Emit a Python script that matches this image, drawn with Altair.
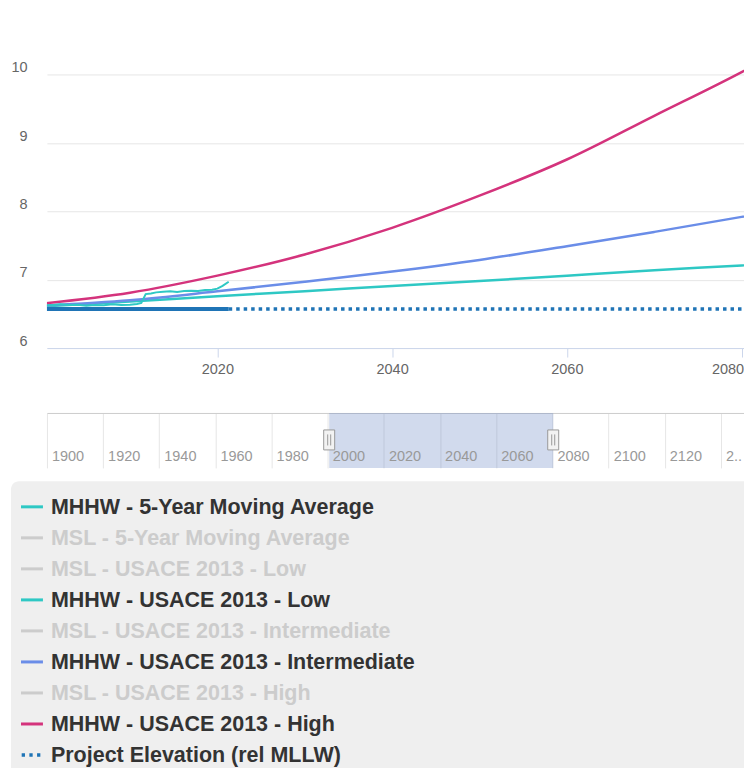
import altair as alt
import pandas as pd

# ---------------- data (ft, relative to MLLW) ----------------
SERIES = [
    "MHHW - 5-Year Moving Average",
    "MSL - 5-Year Moving Average",
    "MSL - USACE 2013 - Low",
    "MHHW - USACE 2013 - Low",
    "MSL - USACE 2013 - Intermediate",
    "MHHW - USACE 2013 - Intermediate",
    "MSL - USACE 2013 - High",
    "MHHW - USACE 2013 - High",
    "Project Elevation (rel MLLW)",
]
SHOWN = [True, False, False, True, False, True, False, True, True]
SERIES_COLORS = ["#2ec8c4", "#cccccc", "#cccccc", "#2ec8c4", "#cccccc",
                 "#6a8de8", "#cccccc", "#d4337c", "#1f74b6"]

# observed MHHW 5-year moving average
MA_YEARS = [2000.0, 2001.0, 2002.0, 2003.0, 2004.0, 2005.0, 2006.0, 2007.0, 2008.0,
            2009.0, 2010.0, 2010.8, 2011.3, 2011.8, 2012.4, 2013.0, 2013.8, 2014.6,
            2015.4, 2016.2, 2017.0, 2017.8, 2018.6, 2019.4, 2020.0, 2020.6, 2021.3]
MA_VALUES = [6.63, 6.625, 6.64, 6.63, 6.635, 6.62, 6.63, 6.625, 6.64,
             6.63, 6.635, 6.645, 6.66, 6.79, 6.80, 6.815, 6.825, 6.83,
             6.82, 6.835, 6.84, 6.835, 6.85, 6.855, 6.87, 6.91, 6.97]

# USACE 2013 projections of MHHW
PROJ_YEARS = [2000, 2010, 2020, 2030, 2040, 2050, 2060, 2070, 2080, 2090]
LOW = [6.61, 6.68, 6.76, 6.83, 6.91, 6.98, 7.06, 7.14, 7.21, 7.29]
INTERMEDIATE = [6.62, 6.70, 6.83, 6.97, 7.12, 7.29, 7.49, 7.70, 7.92, 8.16]
HIGH = [6.65, 6.81, 7.06, 7.37, 7.76, 8.23, 8.76, 9.40, 10.04, 10.75]

PROJECT_ELEVATION = 6.57
PE_SOLID_YEARS = [2000, 2021.3]
PE_DOTTED_YEARS = [2021.3, 2100]

VIEW_RANGE = [2000.5, 2080.27]         # navigator selection = main x range
NAV_RANGE = [1900, 2148.2]
NAV_TICKS = [1900, 1920, 1940, 1960, 1980, 2000, 2020, 2040, 2060, 2080, 2100, 2120, 2140]
NAV_LABELS = ["1900", "1920", "1940", "1960", "1980", "2000", "2020", "2040",
              "2060", "2080", "2100", "2120", "2.."]
MAIN_X_TICKS = [2020, 2040, 2060, 2080]
MAIN_Y_TICKS = [6, 7, 8, 9, 10]
Y_DOMAIN = [6, 10.97]

FONT = "Liberation Sans"
W = 698

# ---------------- tables ----------------
proj_rows = []
for name, vals in [(SERIES[3], LOW), (SERIES[5], INTERMEDIATE), (SERIES[7], HIGH)]:
    for yr, v in zip(PROJ_YEARS, vals):
        proj_rows.append({"series": name, "year": yr, "value": v})
proj_df = pd.DataFrame(proj_rows)
ma_df = pd.DataFrame({"series": SERIES[0], "year": MA_YEARS, "value": MA_VALUES})
pe_solid_df = pd.DataFrame({"series": SERIES[8], "year": PE_SOLID_YEARS,
                            "value": [PROJECT_ELEVATION] * len(PE_SOLID_YEARS)})
pe_dot_df = pd.DataFrame({"series": SERIES[8], "year": PE_DOTTED_YEARS,
                          "value": [PROJECT_ELEVATION] * len(PE_DOTTED_YEARS)})

color = alt.Color("series:N", scale=alt.Scale(domain=SERIES, range=SERIES_COLORS), legend=None)

x_main = alt.X(
    "year:Q",
    scale=alt.Scale(domain=VIEW_RANGE, nice=False, zero=False),
    axis=alt.Axis(values=MAIN_X_TICKS, format="d", title=None, grid=False,
                  domainColor="#ccd6eb", tickColor="#ccd6eb", tickSize=9,
                  labelPadding=5, labelFontSize=14.5, labelColor="#666666",
                  labelFont=FONT, labelFlush=6, labelFlushOffset=2),
)
y_main = alt.Y(
    "value:Q",
    scale=alt.Scale(domain=Y_DOMAIN, nice=False, zero=False),
    axis=alt.Axis(values=MAIN_Y_TICKS, title=None, domain=False, ticks=False,
                  gridColor="#e6e6e6", labelAlign="right", labelPadding=20,
                  labelBaseline="alphabetic", labelOffset=-3, labelFontSize=14.5,
                  labelColor="#666666", labelFont=FONT),
)

proj = alt.Chart(proj_df).mark_line(clip=True, strokeWidth=2.5, interpolate="monotone").encode(
    x=x_main, y=y_main, color=color)
ma = alt.Chart(ma_df).mark_line(clip=True, strokeWidth=2).encode(x=x_main, y=y_main, color=color)
pe_solid = alt.Chart(pe_solid_df).mark_line(clip=True, strokeWidth=4).encode(
    x=x_main, y=y_main, color=color)
pe_dot = alt.Chart(pe_dot_df).mark_line(clip=True, strokeWidth=3.5, strokeDash=[3.5, 4]).encode(
    x=x_main, y=y_main, color=color)

main = alt.layer(proj, ma, pe_solid, pe_dot).properties(width=W, height=340)

# ---------------- navigator + legend panel ----------------
nav_scale = alt.Scale(domain=NAV_RANGE, nice=False, zero=False)
nav_axis = alt.Axis(orient="top", values=NAV_TICKS, labels=False, ticks=False,
                    domain=True, domainColor="#cccccc", grid=True, gridColor="#e6e6e6",
                    title=None)

mask_df = pd.DataFrame({"start": [VIEW_RANGE[0]], "end": [VIEW_RANGE[1]]})
mask = alt.Chart(mask_df).mark_rect(color="#6685c2", opacity=0.3).encode(
    x=alt.X("start:Q", scale=nav_scale, axis=nav_axis), x2="end:Q",
    y=alt.value(0), y2=alt.value(55))

nav_lab_df = pd.DataFrame({"year": NAV_TICKS, "label": NAV_LABELS})
nav_labels = alt.Chart(nav_lab_df).mark_text(
    align="left", baseline="middle", dx=5, fontSize=14.5, color="#999999", font=FONT
).encode(x=alt.X("year:Q", scale=nav_scale, axis=nav_axis), y=alt.value(44), text="label:N")

HANDLE = "M-0.55,-1 L0.55,-1 L0.55,1 L-0.55,1 Z M-0.15,-0.55 L-0.15,0.55 M0.15,-0.55 L0.15,0.55"
handles = alt.Chart(pd.DataFrame({"year": VIEW_RANGE})).mark_point(
    shape=HANDLE, size=400, filled=True, fill="#f2f2f2", stroke="#999999",
    strokeWidth=1, opacity=1
).encode(x=alt.X("year:Q", scale=nav_scale, axis=nav_axis), y=alt.value(27))

legend_box = alt.Chart(pd.DataFrame({"a": [0]})).mark_rect(
    color="#efefef", cornerRadiusTopLeft=8
).encode(x=alt.value(-36), x2=alt.value(W), y=alt.value(68.4), y2=alt.value(358))

leg_df = pd.DataFrame({"series": SERIES, "shown": SHOWN})
leg_y = alt.Y("series:N", scale=alt.Scale(type="point", domain=SERIES, range=[94.0, 342.5], padding=0),
              axis=None)
sym_solid = alt.Chart(leg_df).transform_filter(alt.datum.series != SERIES[8]).mark_rule(
    strokeWidth=3).encode(x=alt.value(-26), x2=alt.value(-4), y=leg_y, color=color)
sym_dot = alt.Chart(leg_df).transform_filter(alt.datum.series == SERIES[8]).mark_rule(
    strokeWidth=3.5, strokeDash=[3.3, 4.4]).encode(x=alt.value(-25.3), x2=alt.value(-4), y=leg_y, color=color)
txt_on = alt.Chart(leg_df).transform_filter("datum.shown").mark_text(
    align="left", baseline="middle", dy=1.5, fontSize=21.5, fontWeight="bold", color="#333333", font=FONT
).encode(x=alt.value(4), y=leg_y, text="series:N")
txt_off = alt.Chart(leg_df).transform_filter("!datum.shown").mark_text(
    align="left", baseline="middle", dy=1.5, fontSize=21.5, fontWeight="bold", color="#cccccc", font=FONT
).encode(x=alt.value(4), y=leg_y, text="series:N")

nav_panel = alt.layer(legend_box, mask, nav_labels, handles, sym_solid, sym_dot, txt_on, txt_off
                      ).properties(width=W, height=55)

chart = alt.vconcat(main, nav_panel, spacing=65, bounds="flush").properties(
    padding={"left": 2, "top": 0, "right": 0, "bottom": -3}
).configure(font=FONT).configure_view(stroke=None)

chart.save("out.html", embed_options={"renderer": "svg", "actions": False})
